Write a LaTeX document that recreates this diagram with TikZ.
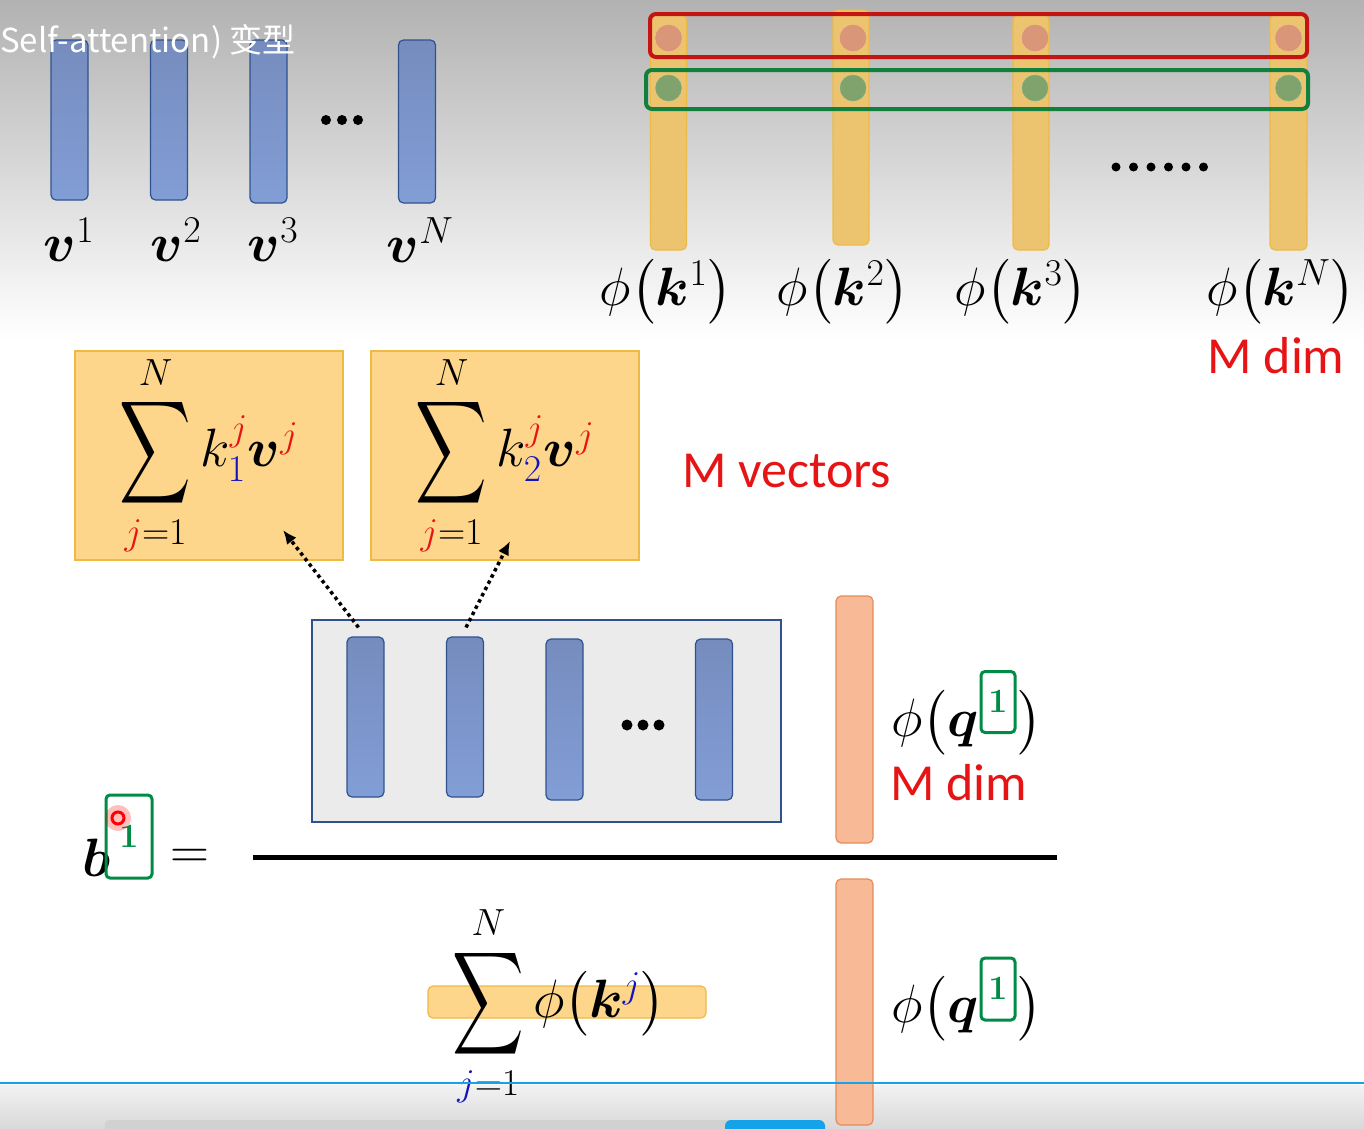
\RequirePackage{fix-cm}
\documentclass[tikz,border=0pt]{standalone}
\usepackage{amsmath,amssymb}
\usepackage{bm}
\usepackage{graphicx}
\usepackage{fontspec}
\newfontfamily\calibri{Carlito}
\newfontfamily\cjk{Noto Sans CJK SC}
\usetikzlibrary{arrows.meta,positioning}
\definecolor{bgtop}{RGB}{178,178,178}
\definecolor{vedge}{RGB}{47,82,143}
\definecolor{vtop}{RGB}{118,140,190}
\definecolor{vbot}{RGB}{130,158,214}
\definecolor{kedge}{RGB}{238,186,70}
\definecolor{kfill}{RGB}{236,196,112}
\definecolor{sumfill}{RGB}{253,214,140}
\definecolor{qedge}{RGB}{228,140,92}
\definecolor{qfill}{RGB}{248,186,150}
\definecolor{rowred}{RGB}{196,20,20}
\definecolor{rowgreen}{RGB}{18,128,60}
\definecolor{circred}{RGB}{218,150,120}
\definecolor{circgreen}{RGB}{128,162,108}
\definecolor{idxgreen}{RGB}{0,140,70}
\definecolor{slidered}{RGB}{230,20,20}
\definecolor{slideblue}{RGB}{20,20,190}
\definecolor{uiblue}{RGB}{20,163,232}
\newcommand\slidemath{\fontsize{54}{62}\selectfont}
\newcommand\slidetext{\calibri\fontsize{52}{60}\selectfont}
\newcommand\bigsum{\mathop{\vcenter{\hbox{\scalebox{0.92}[1.33]{$\displaystyle\sum$}}}}\limits}
\begin{document}
\begin{tikzpicture}[x=1pt,y=-1pt,
  bar/.style={draw,rounded corners=5pt,inner sep=0pt,line width=1.2pt},
  vbar/.style={bar,draw=vedge,top color=vtop,bottom color=vbot,minimum width=37pt},
  kbar/.style={bar,draw=kedge,fill=kfill,minimum width=36pt},
  qbar/.style={bar,draw=qedge,fill=qfill,minimum width=37pt,minimum height=247pt},
  sumbox/.style={draw=kedge,fill=sumfill,line width=1.2pt,inner sep=0pt,minimum width=268pt,minimum height=209pt},
  rowbox/.style={draw,line width=4pt,rounded corners=6pt,inner sep=0pt},
  rcirc/.style={circle,draw=rowred!50,fill=circred,minimum size=26pt,inner sep=0pt},
  gcirc/.style={circle,draw=rowgreen!60,fill=circgreen,minimum size=26pt,inner sep=0pt},
  idxbox/.style={draw=idxgreen,line width=3pt,rounded corners=4pt,inner sep=0pt,text=idxgreen,font=\fontsize{34}{38}\selectfont},
  dotarrow/.style={line width=3.5pt,dash pattern=on 3.5pt off 3.5pt,-{Latex[length=14pt,width=12pt]}},
  redlabel/.style={text=slidered,font=\slidetext,inner sep=0pt}]
\useasboundingbox (0,0) rectangle (1364,1128);
% background
\shade[top color=bgtop,bottom color=white] (0,0) rectangle (1364,340);
\fill[white] (0,340) rectangle (1364,1085);
\shade[top color=white!95!black,bottom color=white!85!black] (0,1085) rectangle (1364,1128);
\fill[white!82!black,rounded corners=4pt] (105,1120) rectangle (740,1136);
\fill[uiblue,rounded corners=6pt] (725,1120) rectangle (825,1136);

% value vectors
\node[vbar,minimum height=160pt] (v1) at (69.5,120) {};
\node[vbar,minimum height=160pt] (v2) at (169,120) {};
\node[vbar,minimum height=163pt] (v3) at (268.5,121.5) {};
\node[vbar,minimum height=163pt] (vN) at (417,121.5) {};
\foreach \x in {326,342,358} \fill (\x,120) circle (5pt);
\node (lv1) at (69,240) {\slidemath$\bm{v}^1$};
\node (lv2) at (176,240) {\slidemath$\bm{v}^2$};
\node (lv3) at (273,240) {\slidemath$\bm{v}^3$};
\node (lvN) at (420,240) {\slidemath$\bm{v}^N$};

% phi(k) vectors
\node[kbar,minimum height=235pt] (k1) at (668.5,132.5) {};
\node[kbar,minimum height=235pt] (k2) at (851,127.5) {};
\node[kbar,minimum height=235pt] (k3) at (1031,132.5) {};
\node[kbar,minimum height=235pt,minimum width=37pt] (kN) at (1288.5,132.5) {};
\foreach \b/\dx in {k1/0,k2/2,k3/4,kN/0} {
  \node[rcirc] (\b r) at ([xshift=\dx pt]\b.center |- 0,38) {};
  \node[gcirc] (\b g) at ([xshift=\dx pt]\b.center |- 0,88) {};
}
\node[rowbox,draw=rowred,minimum width=657pt,minimum height=43pt] (rowr) at (978.5,35.5) {};
\node[rowbox,draw=rowgreen,minimum width=662pt,minimum height=39pt] (rowg) at (977,89.5) {};
\foreach \x in {0,...,5} \fill (1116+17.5*\x,167) circle (4.5pt);
\node (lk1) at (666,292) {\slidemath$\phi\bigl(\bm{k}^{1}\bigr)$};
\node (lk2) at (843,292) {\slidemath$\phi\bigl(\bm{k}^{2}\bigr)$};
\node (lk3) at (1021,292) {\slidemath$\phi\bigl(\bm{k}^{3}\bigr)$};
\node (lkN) at (1281,292) {\slidemath$\phi\bigl(\bm{k}^{N}\bigr)$};
\node[redlabel,anchor=base] (mdim1) at (1276,373) {M dim};

% weighted sums
\node[sumbox] (s1) at (209,455.5) {};
\node[sumbox] (s2) at (505,455.5) {};
\node (sum1) at (s1) {\slidemath$\bigsum_{{\color{slidered}j}=1}^{N} k^{{\color{slidered}j}}_{{\color{slideblue}1}}\bm{v}^{{\color{slidered}j}}$};
\node (sum2) at (s2) {\slidemath$\bigsum_{{\color{slidered}j}=1}^{N} k^{{\color{slidered}j}}_{{\color{slideblue}2}}\bm{v}^{{\color{slidered}j}}$};
\node[redlabel,anchor=base west] (mvec) at (682,487) {M vectors};

% numerator
\node[draw=vedge,fill=white!92!black,line width=1.5pt,inner sep=0pt,minimum width=469pt,minimum height=202pt] (num) at (546.5,721) {};
\node[vbar,minimum height=160pt] (w1) at (365.5,717) {};
\node[vbar,minimum height=160pt] (w2) at (465,717) {};
\node[vbar,minimum height=161pt] (w3) at (564.5,719.5) {};
\node[vbar,minimum height=161pt] (w4) at (714,719.5) {};
\foreach \x in {627,643,659} \fill (\x,725) circle (5.5pt);
\coordinate (tip1) at (283,530);
\coordinate (tip2) at (510,541);
\draw[dotarrow] ([shift={(-7,-9)}]w1.north) -- (tip1);
\draw[dotarrow] ([shift={(1,-9)}]w2.north) -- (tip2);

\node[qbar] (q1) at (854.5,719.5) {};
\node[anchor=base west,inner sep=0pt] (phq1) at (891,736) {\slidemath$\phi\bigl(\bm{q}$};
\node[idxbox,minimum width=34pt,minimum height=61pt] (qi1) at (998,702) {$\bm{1}$};
\node[anchor=base west,inner sep=0pt] (rp1) at ([xshift=1pt]qi1.east |- phq1.base) {\slidemath$\bigr)$};
\node[redlabel,anchor=base west] (mdim2) at (890,800) {M dim};

% b = fraction
\node[anchor=base west,inner sep=0pt] (b) at (82,876) {\slidemath$\bm{b}$};
\node[idxbox,minimum width=46pt,minimum height=83pt] (bi) at (129,836.5) {$\bm{1}$};
\node (eq) at (190,859) {\slidemath$=$};
\draw[line width=5pt] (253,857) -- (1057,857);
\fill[red,opacity=0.25] (118,818) circle (13pt);
\draw[red,line width=3pt] (118,818) circle (6pt);

% denominator
\node[bar,draw=kedge,fill=sumfill,minimum width=278pt,minimum height=32pt] (kbarj) at (567,1002) {};
\node (den) at (559,1006) {\slidemath$\bigsum_{{\color{slideblue}j}=1}^{N}\phi\bigl(\bm{k}^{{\color{slideblue}j}}\bigr)$};
\node[qbar,minimum height=246pt] (q2) at (854.5,1002) {};
\node[anchor=base west,inner sep=0pt] (phq2) at (891,1022) {\slidemath$\phi\bigl(\bm{q}$};
\node[idxbox,minimum width=34pt,minimum height=62pt] (qi2) at (998,989) {$\bm{1}$};
\node[anchor=base west,inner sep=0pt] (rp2) at ([xshift=1pt]qi2.east |- phq2.base) {\slidemath$\bigr)$};

% overlays
\draw[uiblue,line width=2.5pt] (0,1083) -- (1364,1083);
\node[anchor=west,inner sep=0pt,text=white,font=\cjk\fontsize{33}{38}\selectfont] (title) at (0,42) {Self-attention) 变型};
\end{tikzpicture}
\end{document}
